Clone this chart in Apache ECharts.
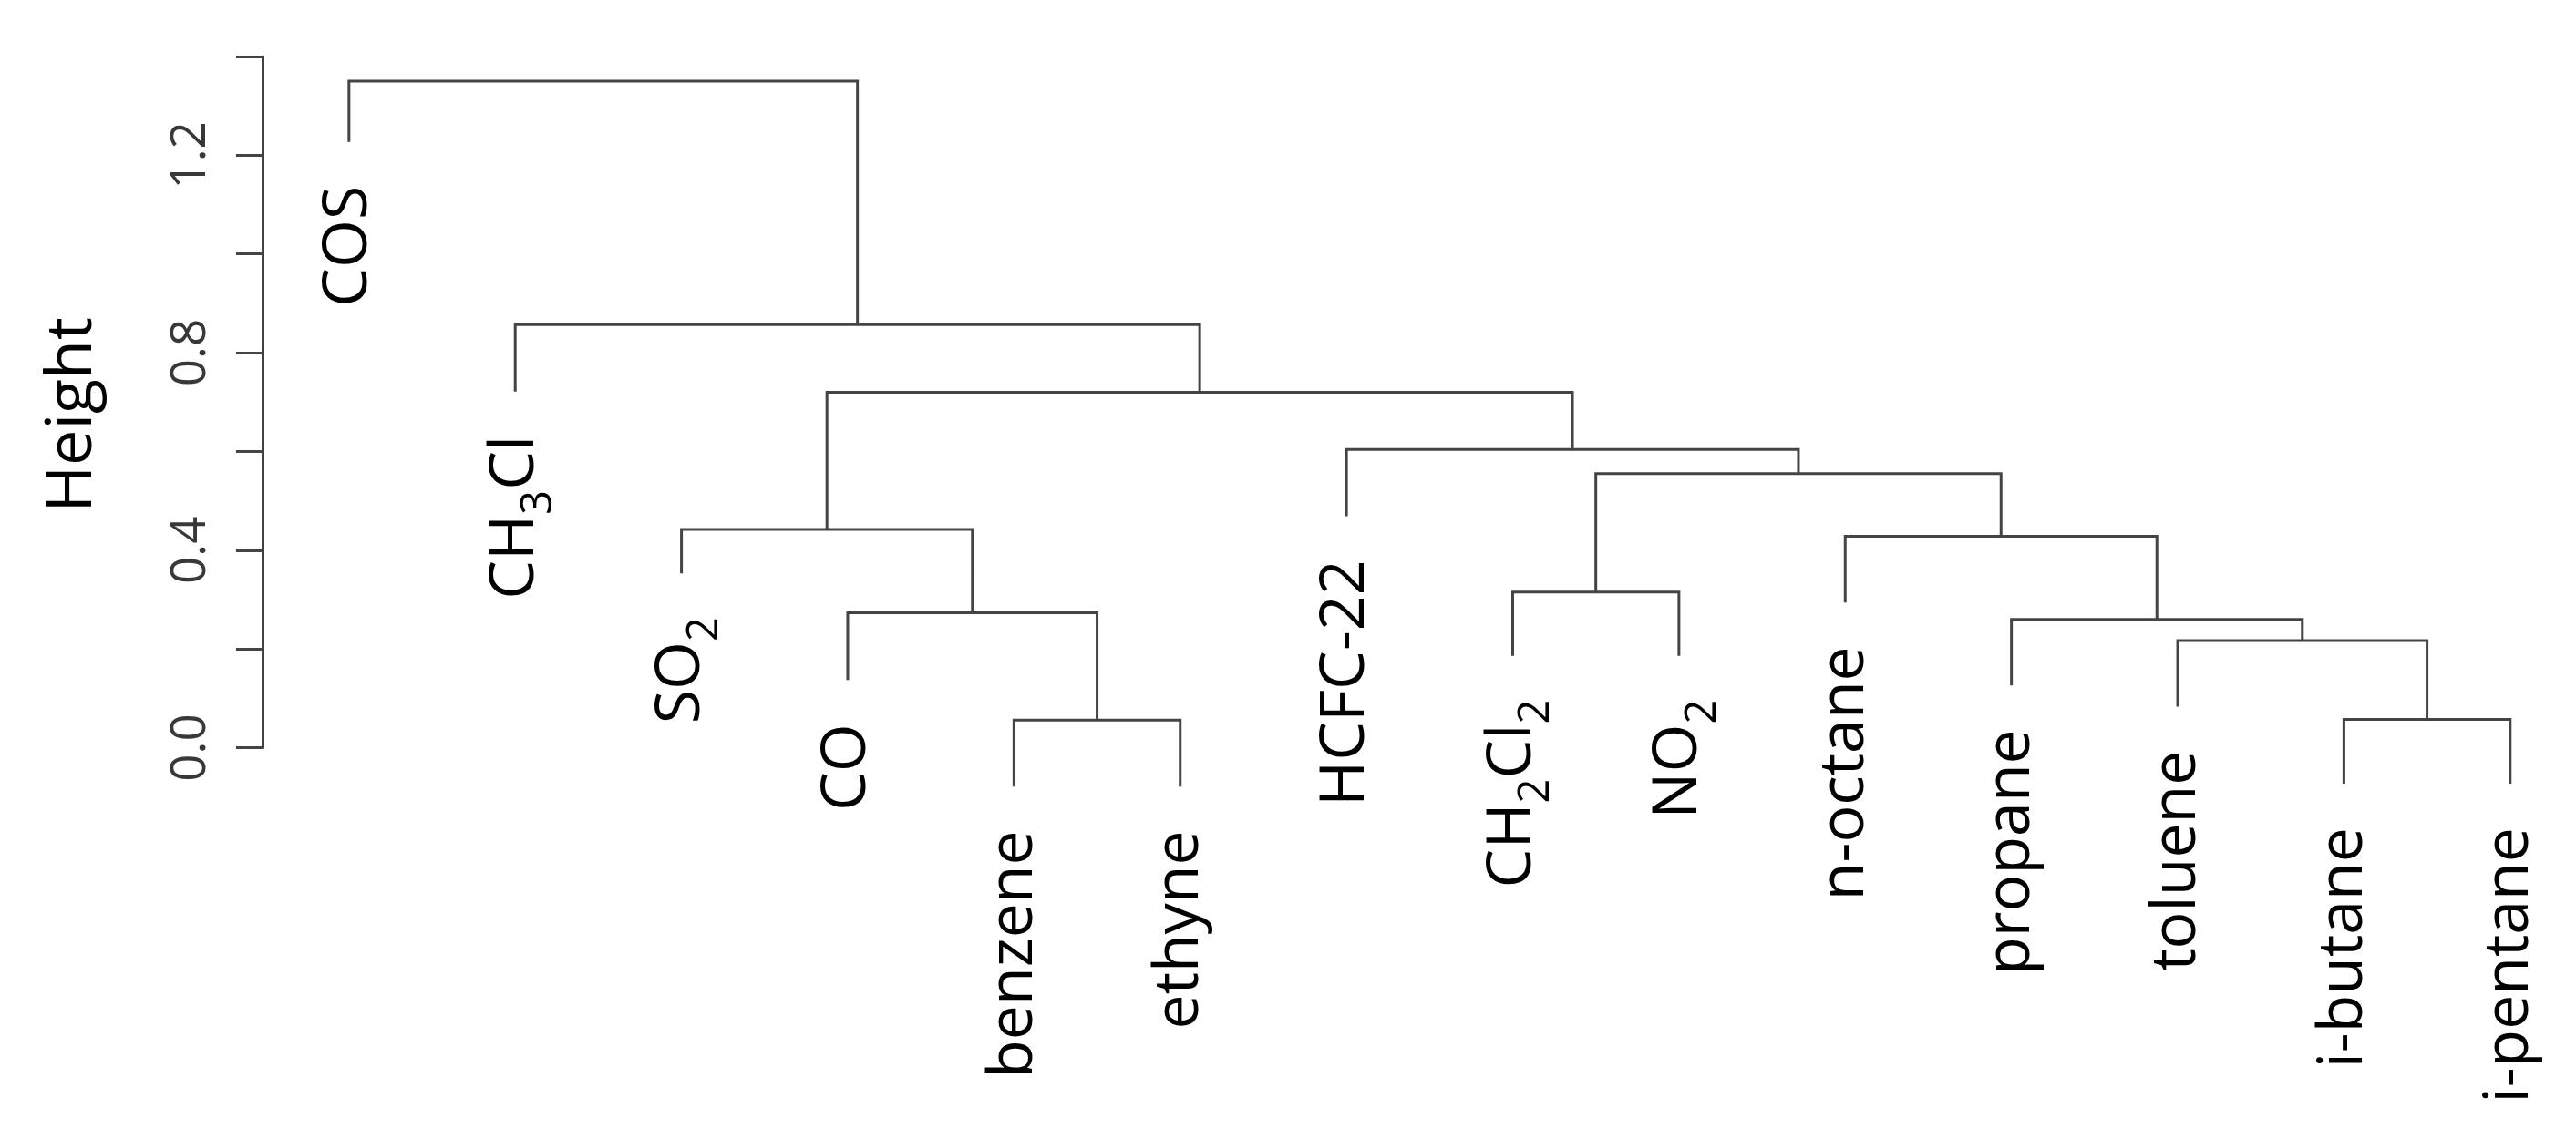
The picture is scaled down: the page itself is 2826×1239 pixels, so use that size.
<!DOCTYPE html>
<html>
<head>
<meta charset="utf-8">
<script src="https://cdn.jsdelivr.net/npm/echarts@6/dist/echarts.min.js"></script>
<style>
html,body{margin:0;padding:0;background:#ffffff;}
#chart{width:2826px;height:1239px;}
</style>
</head>
<body>
<div id="chart"></div>
<script>
// ---- data (dendrogram, leaves in plotted order; "_d" marks a subscript digit) ----
const leafLabels = ['COS', 'CH_3Cl', 'SO_2', 'CO', 'benzene', 'ethyne', 'HCFC-22',
  'CH_2Cl_2', 'NO_2', 'n-octane', 'propane', 'toluene', 'i-butane', 'i-pentane'];

// merges in R hclust style: negative = leaf (1-based in leafLabels), positive = earlier merge
const merges = [
  [-5, -6],
  [-13, -14],
  [-12, 2],
  [-11, 3],
  [-4, 1],
  [-8, -9],
  [-10, 4],
  [-3, 5],
  [6, 7],
  [-7, 9],
  [8, 10],
  [-2, 11],
  [-1, 12]
];
const mergeHeights = [0.056, 0.057, 0.217, 0.260, 0.273, 0.315, 0.428, 0.442, 0.555, 0.604, 0.720, 0.857, 1.350];

// height where each leaf's branch ends (hanging leaves)
const leafHeights = [1.227, 0.721, 0.353, 0.137, -0.079, -0.079, 0.469, 0.186, 0.186, 0.294, 0.126, 0.083, -0.073, -0.073];

const yTickLabels = ['0.0', '0.4', '0.8', '1.2'];

// ---- build ----
const LINE_COLOR = '#444444';
const LABEL_GAP = 48;
const FONT = "'Open Sans', 'Noto Sans', sans-serif";

const leafX = leafLabels.map((_, i) => i + 1);
const nodeX = [];
function child(c) {
  return c < 0 ? { x: leafX[-c - 1], y: leafHeights[-c - 1] }
               : { x: nodeX[c - 1], y: mergeHeights[c - 1] };
}
const linkData = merges.map((m, k) => {
  const a = child(m[0]), b = child(m[1]);
  nodeX[k] = (a.x + b.x) / 2;
  return [a.x, b.x, a.y, b.y, mergeHeights[k]];
});

function toRich(s) {
  let out = '';
  let buf = '';
  for (let i = 0; i < s.length; i++) {
    if (s[i] === '_' && i + 1 < s.length) {
      if (buf) { out += '{n|' + buf + '}'; buf = ''; }
      out += '{s|' + s[i + 1] + '}';
      i++;
    } else {
      buf += s[i];
    }
  }
  if (buf) out += '{n|' + buf + '}';
  return out;
}
const richLabels = leafLabels.map(toRich);
const labelData = leafLabels.map((_, i) => [leafX[i], leafHeights[i], i]);

const RICH = {
  n: { fontSize: 68, fontFamily: FONT, lineHeight: 100, verticalAlign: 'middle' },
  s: { fontSize: 47, fontFamily: FONT, lineHeight: 52, verticalAlign: 'bottom' }
};

const chart = echarts.init(document.getElementById('chart'), null, { renderer: 'canvas' });
chart.setOption({
  backgroundColor: '#ffffff',
  animation: false,
  grid: { left: 288, top: 62, right: 0, height: 758.5, containLabel: false },
  xAxis: { type: 'value', min: 0.48, max: 14.396, show: false },
  yAxis: {
    type: 'value', min: 0, max: 1.4, interval: 0.2,
    name: 'Height', nameLocation: 'middle', nameRotate: 90, nameGap: 173,
    nameTextStyle: { fontSize: 70, fontFamily: FONT, color: '#000000', padding: [0, 28, 0, 0] },
    axisLine: { show: true, lineStyle: { color: LINE_COLOR, width: 3 } },
    axisTick: { show: true, inside: false, length: 29, lineStyle: { color: LINE_COLOR, width: 3 } },
    splitLine: { show: false },
    axisLabel: {
      rotate: 90, margin: 52, fontSize: 53, fontFamily: FONT, color: '#383838',
      formatter: v => { const s = (+v).toFixed(1); return yTickLabels.includes(s) ? s : ''; }
    }
  },
  series: [
    {
      type: 'custom',
      clip: false,
      data: linkData,
      renderItem: (params, api) => {
        const p0 = api.coord([api.value(0), api.value(2)]);
        const p1 = api.coord([api.value(0), api.value(4)]);
        const p2 = api.coord([api.value(1), api.value(4)]);
        const p3 = api.coord([api.value(1), api.value(3)]);
        return {
          type: 'polyline',
          shape: { points: [p0, p1, p2, p3] },
          style: { stroke: LINE_COLOR, lineWidth: 3, fill: null }
        };
      }
    },
    {
      type: 'custom',
      clip: false,
      data: labelData,
      renderItem: (params, api) => {
        const p = api.coord([api.value(0), api.value(1)]);
        const idx = api.value(2);
        return {
          type: 'text',
          x: p[0],
          y: p[1] + LABEL_GAP,
          rotation: Math.PI / 2,
          style: {
            text: richLabels[idx],
            rich: RICH,
            fontSize: 68,
            fontFamily: FONT,
            fill: '#000000',
            align: 'right',
            verticalAlign: 'middle'
          }
        };
      }
    }
  ]
});
</script>
</body>
</html>
